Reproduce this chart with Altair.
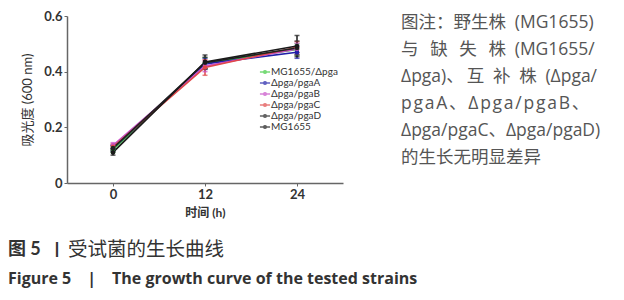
import altair as alt
import pandas as pd

# ---- data ----
times = [0, 12, 24]
series = ["MG1655/Δpga", "Δpga/pgaA", "Δpga/pgaB", "Δpga/pgaC", "Δpga/pgaD", "MG1655"]
colors = ["#3ecb3e", "#1f1fa8", "#c84fc8", "#e04848", "#222222", "#1a1a1a"]
means = {
    "MG1655/Δpga": [0.120, 0.430, 0.480],
    "Δpga/pgaA":   [0.125, 0.428, 0.470],
    "Δpga/pgaB":   [0.135, 0.420, 0.482],
    "Δpga/pgaC":   [0.130, 0.415, 0.488],
    "Δpga/pgaD":   [0.125, 0.432, 0.485],
    "MG1655":      [0.110, 0.435, 0.492],
}
sds = {
    "MG1655/Δpga": [0.010, 0.020, 0.020],
    "Δpga/pgaA":   [0.010, 0.020, 0.022],
    "Δpga/pgaB":   [0.010, 0.020, 0.020],
    "Δpga/pgaC":   [0.010, 0.028, 0.020],
    "Δpga/pgaD":   [0.010, 0.020, 0.025],
    "MG1655":      [0.010, 0.025, 0.038],
}

EN = "\u2002"   # en space (not collapsed)
TH = "\u2009"   # thin space
HS = "\u200a"   # hair space
note_lines = [
    "图注：野生株" + EN + "(MG1655)",
    "与" + EN + TH + "缺" + EN + TH + "失" + EN + TH + "株" + EN + "(MG1655/",
    "Δpga)、" + TH + "互" + EN + "补" + EN + "株" + EN + "(Δpga/",
    HS.join("pgaA、Δpga/pgaB、"),
    "Δpga/pgaC、Δpga/pgaD)",
    "的生长无明显差异",
]
caption_cn_bold = "图 5"
caption_cn_bar = "丨"
caption_cn = "受试菌的生长曲线"
caption_en = "Figure 5" + EN * 2 + "|" + EN * 2 + "The growth curve of the tested strains"

rows = []
for s in series:
    for t, m, e in zip(times, means[s], sds[s]):
        rows.append({"t": t, "series": s, "od": m, "lo": m - e, "hi": m + e})
df = pd.DataFrame(rows)

FONT = "Lato, Noto Sans CJK SC"
NOTE_FONT = "Open Sans, Noto Sans CJK SC"
CJK = "Noto Sans CJK SC"

scale = alt.Scale(domain=series, range=colors)
legend = alt.Legend(
    title=None, orient="none", legendX=193, legendY=51,
    labelFont=FONT, labelFontSize=10, labelColor="#333", labelLimit=200,
    symbolType="M-1.6,0L1.6,0M-0.45,0A0.45,0.45 0 1 0 0.45,0A0.45,0.45 0 1 0 -0.45,0",
    symbolSize=40, symbolStrokeWidth=1.4, rowPadding=1, symbolOffset=0,
    labelOffset=1, padding=0,
)
color = alt.Color("series:N", scale=scale, legend=legend)

x = alt.X("t:Q", scale=alt.Scale(domain=[-6, 30], nice=False),
          axis=alt.Axis(values=times, title="时间 (h)", grid=False))
y = alt.Y("od:Q", scale=alt.Scale(domain=[0, 0.6], nice=False),
          axis=alt.Axis(values=[0, 0.2, 0.4, 0.6], title="吸光度 (600 nm)", grid=False,
                        titleFontSize=13, titleFontWeight="normal",
                        labelExpr="datum.value == 0 ? '0' : format(datum.value, '.1f')"))

base = alt.Chart(df)
lines = base.mark_line(strokeWidth=1.6).encode(x=x, y=y, color=color)
pts = base.mark_point(filled=True, size=22, opacity=1).encode(x="t:Q", y="od:Q", color=color)
err = base.mark_rule(strokeWidth=1.5).encode(x="t:Q", y="lo:Q", y2="hi:Q", color=color)
capt = base.mark_tick(thickness=1.5, size=5, orient="horizontal").encode(x="t:Q", y="hi:Q", color=color)
capb = base.mark_tick(thickness=1.5, size=5, orient="horizontal").encode(x="t:Q", y="lo:Q", color=color)

one = pd.DataFrame({"k": [0]})
texts = []
for i, line in enumerate(note_lines):
    texts.append(alt.Chart(one).mark_text(text=line, font=NOTE_FONT, fontSize=17.5, color="#555",
                                           align="left", baseline="middle").encode(
        x=alt.value(401 - 67), y=alt.value(23 + 27 * i - 16)))
texts.append(alt.Chart(one).mark_text(text=caption_cn_bold, font=FONT, fontSize=18, fontWeight="bold",
                                       color="#333", align="left", baseline="middle").encode(
    x=alt.value(8 - 67), y=alt.value(250 - 16)))
texts.append(alt.Chart(one).mark_text(text=caption_cn_bar, font=CJK, fontSize=16, fontWeight="bold",
                                       color="#333", align="center", baseline="middle").encode(
    x=alt.value(57 - 67), y=alt.value(250 - 16)))
texts.append(alt.Chart(one).mark_text(text=caption_cn, font=CJK, fontSize=19.5, color="#333",
                                       align="left", baseline="middle").encode(
    x=alt.value(68 - 67), y=alt.value(250 - 16)))
texts.append(alt.Chart(one).mark_text(text=caption_en, font="Open Sans", fontSize=16, fontWeight="bold",
                                       color="#333", align="left", baseline="middle").encode(
    x=alt.value(8 - 67), y=alt.value(279 - 16)))

chart = alt.layer(err, capt, capb, lines, pts, *texts).properties(
    width=276, height=167,
    autosize=alt.AutoSizeParams(type="none"),
    padding={"left": 67, "top": 16, "right": 281, "bottom": 117},
).configure_view(stroke=None).configure_axis(
    domainColor="#666", domainWidth=1.5, tickColor="#666", tickSize=3,
    labelFont=FONT, labelFontSize=13, labelFontWeight="bold", labelColor="#333",
    titleFont=FONT, titleFontSize=12, titleFontWeight="bold", titleColor="#333",
).configure_axisY(titlePadding=9).configure_axisX(titlePadding=6)

chart.save("out.html", embed_options={"renderer": "svg", "actions": False})
